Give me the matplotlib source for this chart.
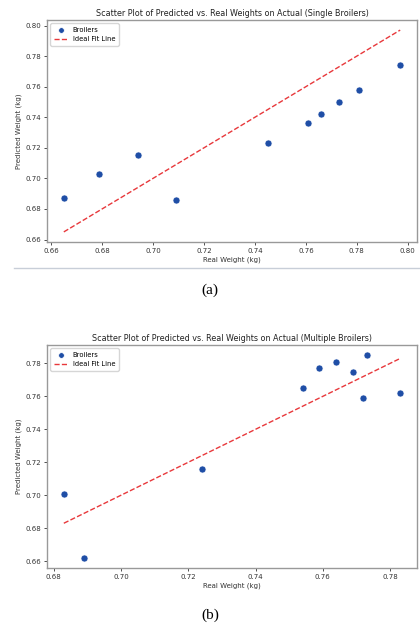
import numpy as np
import matplotlib
matplotlib.use('Agg')
import matplotlib.pyplot as plt

# dados
real_single = [0.665, 0.679, 0.694, 0.709, 0.745, 0.761, 0.766, 0.773, 0.781, 0.797]
pred_single = [0.687, 0.703, 0.715, 0.686, 0.723, 0.736, 0.742, 0.750, 0.758, 0.774]

real_multi = [0.683, 0.689, 0.724, 0.754, 0.759, 0.764, 0.769, 0.772, 0.773, 0.783]
pred_multi = [0.701, 0.662, 0.716, 0.765, 0.777, 0.781, 0.775, 0.759, 0.785, 0.762]

titulos = ['Scatter Plot of Predicted vs. Real Weights on Actual (Single Broilers)',
           'Scatter Plot of Predicted vs. Real Weights on Actual (Multiple Broilers)']
legendas = ['(a)', '(b)']

W, H = 420, 628
fig = plt.figure(figsize=(W / 100, H / 100), dpi=100)

# caixas dos eixos em pixels: (x0, y0_topo, x1, y1_base)
caixas = [(47, 20, 417, 242), (47, 345, 417, 568)]
pos_legenda = [290, 615]


def plota(ax, real, pred, titulo):
    ax.scatter(real, pred, s=26, color='#1f4ea6', edgecolors='white', linewidths=0.5,
               label='Broilers', zorder=3)
    lim = [min(real), max(real)]
    ax.plot(lim, lim, color='#e8383b', linestyle='--', linewidth=1.0, label='Ideal Fit Line')
    ax.set_title(titulo, fontsize=5.8, color='#222222', pad=3)
    ax.set_xlabel('Real Weight (kg)', fontsize=5.0, color='#333333', labelpad=2)
    ax.set_ylabel('Predicted Weight (kg)', fontsize=5.0, color='#333333', labelpad=3)
    ax.tick_params(labelsize=5.0, length=2, width=0.6, pad=2, colors='#333333')
    for s in ax.spines.values():
        s.set_color('#999999')
        s.set_linewidth(1.0)
    ax.legend(loc='upper left', fontsize=4.9, frameon=True, handlelength=2.0,
              borderpad=0.5, labelspacing=0.5, markerscale=0.8)


for i in range(2):
    x0, t, x1, b = caixas[i]
    ax = fig.add_axes([x0 / W, 1 - b / H, (x1 - x0) / W, (b - t) / H])
    if i == 0:
        plota(ax, real_single, pred_single, titulos[i])
    else:
        plota(ax, real_multi, pred_multi, titulos[i])
    fig.text(0.5, 1 - pos_legenda[i] / H, legendas[i], ha='center', va='center',
             fontsize=11, family='Liberation Serif')

# linha cinza sob o primeiro grafico
fig.add_artist(plt.Line2D([14 / W, 1], [1 - 268 / H, 1 - 268 / H], color='#c8ced8', linewidth=1.0))

fig.savefig('out.png', dpi=100)
